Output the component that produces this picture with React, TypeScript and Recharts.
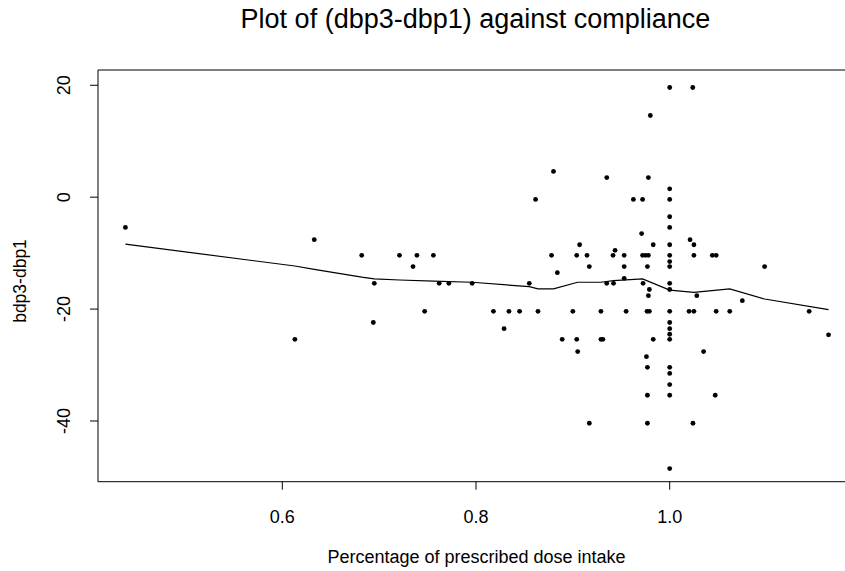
import React from 'react';
import { ComposedChart, Scatter, Line, XAxis, YAxis, ReferenceArea } from 'recharts';

// compliance (share of prescribed dose taken) and change in blood pressure
const compliance = [
  0.438, 0.613, 0.633, 0.682, 0.695, 0.694, 0.721, 0.735, 0.739, 0.747,
  0.756, 0.762, 0.772, 0.796, 0.818, 0.829, 0.834, 0.845, 0.855, 0.8615,
  0.864, 0.878, 0.88, 0.884, 0.889, 0.9, 0.904, 0.904, 0.905, 0.907,
  0.9146, 0.917, 0.917, 0.929, 0.929, 0.931, 0.935, 0.935, 0.9415, 0.942,
  0.9436, 0.953, 0.953, 0.953, 0.955, 0.9625, 0.971, 0.972, 0.972, 0.9725,
  0.975, 0.978, 0.976, 0.9766, 0.977, 0.977, 0.977, 0.977, 0.978, 0.978,
  0.979, 0.979, 0.98, 0.983, 0.983,
  1.0, 1.0, 1.0, 1.0, 1.0, 1.0, 1.0, 1.0, 1.0, 1.0, 1.0,
  1.0, 1.0, 1.0, 1.0, 1.0, 1.0, 1.0, 1.0, 1.0, 1.0,
  1.02, 1.021, 1.0238, 1.024, 1.025, 1.025, 1.025, 1.028, 1.035, 1.044,
  1.047, 1.048, 1.048, 1.062, 1.075, 1.098, 1.144, 1.164,
];
const bpChange = [
  -5.4, -25.4, -7.6, -10.4, -15.4, -22.4, -10.4, -12.4, -10.4, -20.4,
  -10.4, -15.4, -15.4, -15.4, -20.4, -23.5, -20.4, -20.4, -15.4, -0.4,
  -20.4, -10.4, 4.6, -13.5, -25.4, -20.4, -10.4, -25.4, -27.6, -8.5,
  -10.4, -12.4, -40.4, -20.4, -25.4, -25.4, 3.5, -15.4, -10.4, -15.4,
  -9.5, -10.4, -12.4, -14.5, -20.4, -0.4, -6.5, -0.4, -10.4, -15.4,
  -10.4, -10.4, -28.5, -20.4, -12.4, -30.4, -35.4, -40.4, 3.5, -17.6,
  -16.5, -20.4, 14.6, -8.5, -25.4,
  19.6, 1.5, -0.4, -3.5, -5.4, -8.5, -10.4, -11.5, -12.4, -15.4, -16.5,
  -20.4, -22.4, -23.5, -24.5, -25.4, -30.4, -31.5, -33.5, -35.4, -48.5,
  -20.4, -7.6, 19.6, -40.4, -8.5, -10.4, -20.4, -17.6, -27.6, -10.4,
  -35.4, -10.4, -20.4, -20.4, -18.5, -12.4, -20.4, -24.6,
];

// lowess smooth
const smoothX = [
  0.438, 0.613, 0.633, 0.682, 0.695, 0.721, 0.756, 0.796, 0.855, 0.864,
  0.88, 0.905, 0.929, 0.942, 0.972, 1.0, 1.025, 1.062, 1.098, 1.164,
];
const smoothY = [
  -8.4, -12.3, -12.9, -14.3, -14.6, -14.8, -15.0, -15.2, -16.0, -16.4,
  -16.4, -15.2, -15.2, -14.9, -14.6, -16.6, -17.0, -16.4, -18.2, -20.1,
];

const xTicks = [0.6, 0.8, 1.0];
const yTicks = [-40, -20, 0, 20];

const points = compliance.map((x, i) => ({ x, y: bpChange[i] }));
const smooth = smoothX.map((x, i) => ({ x, y: smoothY[i] }));

const xDomain: [number, number] = [0.4097, 1.1872];
const yDomain: [number, number] = [-50.85, 22.73];
const font = '"Liberation Sans", Arial, Helvetica, sans-serif';

const Dot = (props: any) => <circle cx={props.cx} cy={props.cy} r={2.4} fill="#000" />;

const XTick = (props: any) => (
  <text x={props.x} y={props.y} dy={31} textAnchor="middle" fontSize={18} fontFamily={font} fill="#000">
    {props.payload.value.toFixed(1)}
  </text>
);

const YTick = (props: any) => (
  <text
    transform={`translate(${props.x - 18},${props.y}) rotate(-90)`}
    textAnchor="middle"
    fontSize={18}
    fontFamily={font}
    fill="#000"
  >
    {props.payload.value}
  </text>
);

export default function App() {
  return (
    <div style={{ position: 'absolute', left: 0, top: 0, width: 845, height: 571, overflow: 'hidden', background: '#fff' }}>
      <ComposedChart width={870} height={571} margin={{ top: 70, right: 19, bottom: 29.3, left: 0 }}>
        <XAxis
          type="number"
          dataKey="x"
          domain={xDomain}
          ticks={xTicks}
          allowDataOverflow
          axisLine={false}
          tickSize={8}
          tickLine={{ stroke: '#000' }}
          tick={<XTick />}
          height={60}
        />
        <YAxis
          type="number"
          dataKey="y"
          domain={yDomain}
          ticks={yTicks}
          allowDataOverflow
          axisLine={false}
          tickSize={8}
          tickLine={{ stroke: '#000' }}
          tick={<YTick />}
          width={98}
        />
        <ReferenceArea
          x1={xDomain[0]}
          x2={xDomain[1]}
          y1={yDomain[0]}
          y2={yDomain[1]}
          fill="none"
          fillOpacity={0}
          stroke="#000"
          strokeWidth={1}
          strokeOpacity={1}
        />
        <Scatter data={points} dataKey="y" shape={<Dot />} isAnimationActive={false} />
        <Line
          data={smooth}
          dataKey="y"
          type="linear"
          dot={false}
          stroke="#000"
          strokeWidth={1.2}
          isAnimationActive={false}
        />
      </ComposedChart>
      <svg width={845} height={571} style={{ position: 'absolute', left: 0, top: 0, pointerEvents: 'none' }}>
        <text x={475.5} y={28} textAnchor="middle" fontSize={27} fontFamily={font} fill="#000">
          Plot of (dbp3-dbp1) against compliance
        </text>
        <text x={476.5} y={563} textAnchor="middle" fontSize={18} fontFamily={font} fill="#000">
          Percentage of prescribed dose intake
        </text>
        <text transform="translate(26,281) rotate(-90)" textAnchor="middle" fontSize={17.5} fontFamily={font} fill="#000">
          bdp3-dbp1
        </text>
      </svg>
    </div>
  );
}
